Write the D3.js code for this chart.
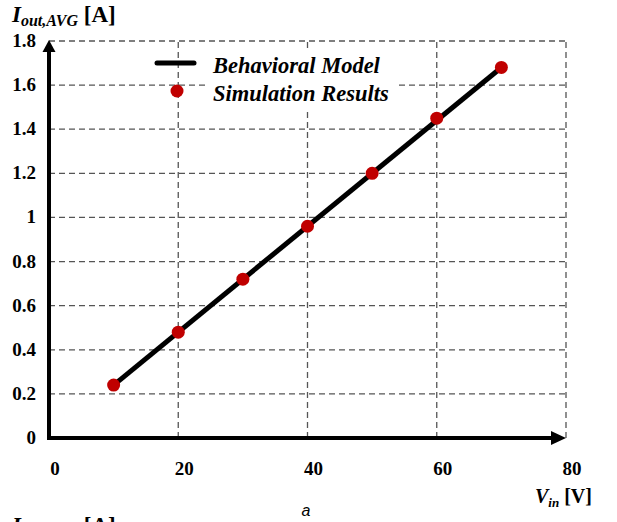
<!DOCTYPE html>
<html>
<head>
<meta charset="utf-8">
<script src="https://cdn.jsdelivr.net/npm/d3@7/dist/d3.min.js"></script>
<style>
  html, body { margin: 0; padding: 0; background: #fff; }
  svg { display: block; }
</style>
</head>
<body>
<svg id="chart" width="617" height="522" font-family="'Liberation Serif', 'Times New Roman', serif"></svg>
<script>
// Input voltage (V) and average output current (A)
const vin = [10, 20, 30, 40, 50, 60, 70];
const simCurrent = [0.24, 0.48, 0.72, 0.96, 1.2, 1.45, 1.68];
// Behavioral model: straight line between its end points
const modelVin = [10, 70];
const modelCurrent = [0.24, 1.68];
const xTicks = [0, 20, 40, 60, 80];
const yTicks = [0, 0.2, 0.4, 0.6, 0.8, 1, 1.2, 1.4, 1.6, 1.8];
const legendLabels = ["Behavioral Model", "Simulation Results"];

const SERIF = "'Liberation Serif', 'Times New Roman', serif";
const svg = d3.select("#chart");
const x = d3.scaleLinear().domain([0, 80]).range([49, 566]);
const y = d3.scaleLinear().domain([0, 1.8]).range([438, 41]);

const gridColor = "#555";
const dash = "6,4";

// Dashed grid
const grid = svg.append("g");
grid.selectAll("line.v").data(xTicks.slice(1)).join("line")
  .attr("x1", d => x(d)).attr("x2", d => x(d))
  .attr("y1", y(0)).attr("y2", y(1.8))
  .attr("stroke", gridColor).attr("stroke-width", 1.3).attr("stroke-dasharray", dash);
grid.selectAll("line.h").data(yTicks.slice(1)).join("line")
  .attr("x1", x(0)).attr("x2", x(80))
  .attr("y1", d => y(d)).attr("y2", d => y(d))
  .attr("stroke", gridColor).attr("stroke-width", 1.3).attr("stroke-dasharray", dash);

// Axes with arrowheads
svg.append("line").attr("x1", x(0)).attr("x2", x(80) - 12)
  .attr("y1", y(0)).attr("y2", y(0)).attr("stroke", "#000").attr("stroke-width", 4);
svg.append("line").attr("x1", x(0)).attr("x2", x(0))
  .attr("y1", y(0) + 2).attr("y2", y(1.8) + 10).attr("stroke", "#000").attr("stroke-width", 4);
svg.append("path")
  .attr("d", `M${x(80)},${y(0)} L${x(80) - 15},${y(0) - 7} L${x(80) - 15},${y(0) + 7} Z`)
  .attr("fill", "#000");
svg.append("path")
  .attr("d", `M${x(0)},${y(1.8) - 1} L${x(0) - 6.5},${y(1.8) + 11} L${x(0) + 6.5},${y(1.8) + 11} Z`)
  .attr("fill", "#000");

// Tick labels
svg.append("g").selectAll("text").data(xTicks).join("text")
  .attr("x", d => x(d) + 6).attr("y", 475)
  .attr("font-family", SERIF)
  .attr("text-anchor", "middle").attr("font-weight", "bold").attr("font-size", 19)
  .text(d => d);
svg.append("g").selectAll("text").data(yTicks).join("text")
  .attr("x", 36).attr("y", d => y(d) + 6)
  .attr("font-family", SERIF)
  .attr("text-anchor", "end").attr("font-weight", "bold").attr("font-size", 19)
  .text(d => d);

// Behavioral model line
const line = d3.line().x((d, i) => x(modelVin[i])).y(d => y(d));
svg.append("path").datum(modelCurrent).attr("d", line)
  .attr("fill", "none").attr("stroke", "#000").attr("stroke-width", 5);

// Simulation points
svg.append("g").selectAll("circle").data(simCurrent).join("circle")
  .attr("cx", (d, i) => x(vin[i])).attr("cy", d => y(d)).attr("r", 6.5)
  .attr("fill", "#c00000");

// Legend
const lg = svg.append("g");
lg.append("rect").attr("x", 206).attr("y", 52).attr("width", 190).attr("height", 56).attr("fill", "#fff");
lg.append("line").attr("x1", 157).attr("x2", 194).attr("y1", 63).attr("y2", 63)
  .attr("stroke", "#000").attr("stroke-width", 5).attr("stroke-linecap", "round");
lg.append("circle").attr("cx", 177).attr("cy", 91).attr("r", 6.5).attr("fill", "#c00000");
lg.selectAll("text").data(legendLabels).join("text")
  .attr("x", 213).attr("y", (d, i) => 73 + i * 28)
  .attr("font-family", SERIF)
  .attr("font-weight", "bold").attr("font-style", "italic").attr("font-size", 22.5)
  .text(d => d);

// Axis titles
function currentTitle(yPos) {
  const t = svg.append("text").attr("x", 12).attr("y", yPos)
    .attr("font-family", SERIF)
    .attr("font-weight", "bold").attr("font-size", 23);
  t.append("tspan").attr("font-style", "italic").attr("font-size", 23).text("I");
  t.append("tspan").attr("font-style", "italic").attr("font-size", 16).attr("dy", 4).text("out,AVG");
  t.append("tspan").attr("dy", -4).text(" [A]");
}
currentTitle(22);
currentTitle(533);

const vt = svg.append("text").attr("x", 535).attr("y", 503)
  .attr("font-family", SERIF)
  .attr("font-weight", "bold").attr("font-size", 20);
vt.append("tspan").attr("font-style", "italic").text("V");
vt.append("tspan").attr("font-style", "italic").attr("font-size", 13).attr("dy", 4).text("in");
vt.append("tspan").attr("dy", -4).text(" [V]");

svg.append("text").attr("x", 306).attr("y", 516).attr("text-anchor", "middle")
  .attr("font-family", "'Liberation Sans', Arial, sans-serif")
  .attr("font-style", "italic").attr("font-size", 16)
  .text("a");
</script>
</body>
</html>
